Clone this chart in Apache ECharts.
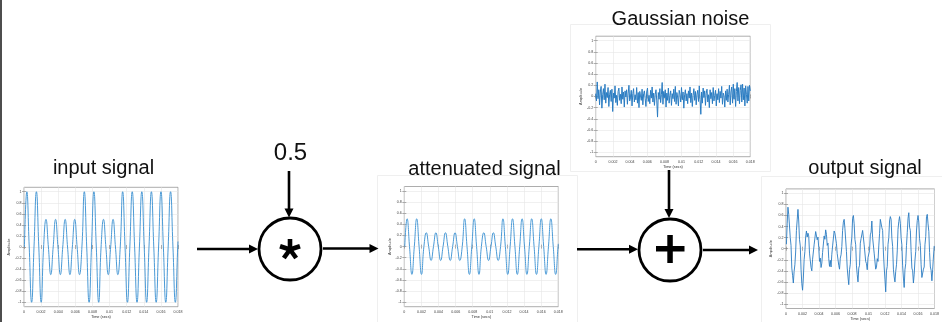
<!DOCTYPE html>
<html><head><meta charset="utf-8">
<script src="https://cdn.jsdelivr.net/npm/echarts@6/dist/echarts.min.js"></script>
<style>html,body{margin:0;padding:0;background:#fff}#c{width:942px;height:322px}</style>
</head><body><div id="c"></div>
<script>
// ---- tick labels ----
const yTickValues = [-1, -0.8, -0.6, -0.4, -0.2, 0, 0.2, 0.4, 0.6, 0.8, 1];
const timeMin = 0, timeMax = 0.018, timeInterval = 0.002;

// ---- input / attenuated signal (sample points read at quarter periods) ----
const signalTime = [0.00005, 0.00033, 0.00061, 0.00089, 0.00117, 0.00145, 0.00173, 0.00201, 0.00229, 0.00257,
  0.00285, 0.00313, 0.00341, 0.00369, 0.00397, 0.00425, 0.00453, 0.00481, 0.00509, 0.00537, 0.00565, 0.00593,
  0.00621, 0.00649, 0.00677, 0.00705, 0.00733, 0.00761, 0.00789, 0.00817, 0.00845, 0.00873, 0.00901, 0.00929,
  0.00957, 0.00985, 0.01013, 0.01041, 0.01069, 0.01097, 0.01125, 0.01153, 0.01181, 0.01209, 0.01237, 0.01265,
  0.01293, 0.01321, 0.01349, 0.01377, 0.01405, 0.01433, 0.01461, 0.01489, 0.01517, 0.01545, 0.01573, 0.01601,
  0.01629, 0.01657, 0.01685, 0.01713, 0.01741, 0.01769, 0.01797, 0.018];
const inputAmp = [0, 1, 0, -1, 0, 1, 0, -1,
  0, 0.5, 0, -0.5, 0, 0.5, 0, -0.5, 0, 0.5, 0, -0.5, 0, 0.5, 0, -0.5,
  0, 1, 0, -1, 0, 1, 0, -1,
  0, 0.5, 0, -0.5, 0, 0.5, 0, -0.5,
  0, 1, 0, -1, 0, 1, 0, -1, 0, 1, 0, -1, 0, 1, 0, -1, 0, 1, 0, -1, 0, 1, 0, -1,
  0, 0.1];
const attenuatedAmp = [0, 0.5, 0, -0.5, 0, 0.5, 0, -0.5,
  0, 0.25, 0, -0.25, 0, 0.25, 0, -0.25, 0, 0.25, 0, -0.25, 0, 0.25, 0, -0.25,
  0, 0.5, 0, -0.5, 0, 0.5, 0, -0.5,
  0, 0.25, 0, -0.25, 0, 0.25, 0, -0.25,
  0, 0.5, 0, -0.5, 0, 0.5, 0, -0.5, 0, 0.5, 0, -0.5, 0, 0.5, 0, -0.5, 0, 0.5, 0, -0.5, 0, 0.5, 0, -0.5,
  0, 0.05];

// ---- gaussian noise (sample period 0.00009 s) ----
const noiseStep = 0.00009;
const noiseAmp = [0.05, -0.08, 0.26, -0.04, 0.12, -0.15, 0.08, 0.18, -0.21, 0.03,
  0.14, -0.06, 0.22, -0.12, 0.07, -0.02, 0.16, -0.18, 0.04, 0.11,
  -0.09, 0.13, -0.27, 0.06, -0.03, 0.19, -0.11, 0.02, -0.16, 0.09,
  0.15, -0.07, 0.04, -0.13, 0.17, -0.05, 0.08, -0.19, 0.1, -0.01,
  0.12, -0.14, 0.06, 0.2, -0.08, -0.02, 0.11, -0.17, 0.05, 0.14,
  -0.1, 0.03, -0.06, 0.16, -0.12, 0.07, -0.2, 0.09, 0.01, -0.07,
  0.13, -0.15, 0.05, 0.1, -0.04, -0.18, 0.08, 0.15, -0.09, 0.02,
  -0.13, 0.11, -0.03, 0.17, -0.1, 0.06, -0.16, 0.04, 0.12, -0.08,
  -0.37, 0.07, -0.05, 0.14, -0.11, 0.03, 0.25, -0.14, 0.09, -0.02,
  0.12, -0.19, 0.06, -0.07, 0.15, -0.12, 0.02, 0.1, -0.16, 0.05,
  -0.04, 0.13, -0.09, 0.18, -0.14, 0.07, -0.01, -0.17, 0.11, 0.04,
  -0.1, 0.16, -0.06, 0.08, -0.21, 0.03, 0.12, -0.08, 0.05, -0.13,
  0.1, -0.03, 0.17, -0.11, 0.06, -0.18, 0.02, 0.14, -0.07, 0.09,
  -0.15, 0.04, 0.11, -0.09, 0.19, -0.05, -0.32, 0.08, -0.12, 0.15,
  -0.02, 0.1, -0.16, 0.06, 0.13, -0.1, 0.03, -0.2, 0.12, -0.04,
  0.07, -0.13, 0.16, -0.08, 0.02, 0.11, -0.17, 0.05, -0.06, 0.14,
  -0.11, 0.09, -0.03, 0.18, -0.14, 0.06, 0.01, -0.19, 0.1, -0.07,
  0.13, -0.1, 0.04, 0.2, -0.15, 0.08, 0.17, -0.12, 0.22, -0.05,
  0.14, -0.18, 0.09, 0.25, -0.08, 0.16, -0.13, 0.11, 0.21, -0.1,
  0.22, -0.06, 0.15, -0.17, 0.19, 0.04, -0.12, 0.18, -0.08, 0.2, 0.1];

// ---- output signal (12 samples per period, starting at 0.00005 s) ----
const outputStart = 0.00005, outputStep = 0.0000933;
const outputAmp = [
  0.08, 0.45, 0.75, 0.62, 0.61, 0.2, 0.06, -0.35, -0.48, -0.62, -0.41, -0.29,
  -0.06, 0.33, 0.52, 0.71, 0.5, 0.17, 0.05, -0.37, -0.63, -0.75, -0.53, -0.2,
  -0.05, 0.21, 0.32, 0.21, 0.28, 0.23, -0.08, -0.09, -0.34, -0.4, -0.19, -0.19,
  0.07, 0.1, 0.31, 0.3, 0.16, 0.21, 0.02, -0.23, -0.17, -0.34, -0.26, -0.07,
  -0.04, 0.23, 0.17, 0.34, 0.26, 0.06, 0.1, -0.18, -0.32, -0.21, -0.33, -0.1,
  0.05, 0.07, 0.32, 0.28, 0.3, 0.09, -0.09, -0.07, -0.3, -0.37, -0.17, -0.11,
  0.04, 0.33, 0.48, 0.53, 0.37, 0.35, -0.05, -0.35, -0.51, -0.65, -0.38, -0.28,
  0.06, 0.21, 0.55, 0.6, 0.45, 0.17, 0.07, -0.31, -0.47, -0.6, -0.35, -0.3,
  0.1, 0.18, 0.18, 0.33, 0.32, 0.07, 0.04, -0.23, -0.27, -0.38, -0.16, -0.15,
  -0.03, 0.25, 0.3, 0.5, 0.2, 0.19, -0.08, -0.11, -0.37, -0.33, -0.18, -0.23,
  0.05, 0.27, 0.53, 0.55, 0.38, 0.33, -0.06, -0.33, -0.55, -0.78, -0.4, -0.32,
  0.08, 0.2, 0.5, 0.58, 0.53, 0.19, 0.04, -0.37, -0.51, -0.6, -0.41, -0.29,
  -0.04, 0.35, 0.49, 0.58, 0.46, 0.2, 0.07, -0.31, -0.53, -0.7, -0.38, -0.27,
  0.06, 0.29, 0.55, 0.65, 0.39, 0.33, -0.05, -0.35, -0.4, -0.62, -0.46, -0.21,
  -0.05, 0.32, 0.51, 0.6, 0.48, 0.18, 0.06, -0.29, -0.52, -0.55, -0.37, -0.33,
  0.07, 0.22, 0.58, 0.62, 0.45, 0.31, -0.07, -0.33, -0.39, -0.58, -0.38, -0.15,
  0.05];

// ---- layout ----
const boxes = [
  {left: 24, top: 187.3, width: 154, height: 119.4},    // input
  {left: 404.3, top: 186.5, width: 154, height: 120.2}, // attenuated
  {left: 595.7, top: 36.2, width: 154.6, height: 120.5},// noise
  {left: 786, top: 188.9, width: 154.3, height: 119.6}  // output
];
const FONT = 'Liberation Sans';
const tickStyle = {color: '#7a7a7a', width: 0.6};

const grids = [], xAxes = [], yAxes = [];
boxes.forEach((b, i) => {
  grids.push(Object.assign({show: true, borderColor: '#8a8a8a', borderWidth: 0.7, backgroundColor: '#fff'}, b));
  xAxes.push({
    gridIndex: i, type: 'value', min: timeMin, max: timeMax, interval: timeInterval, position: 'bottom',
    axisLine: {show: false},
    axisTick: {show: true, inside: true, length: 2, lineStyle: tickStyle},
    axisLabel: {fontSize: 3.6, color: '#404040', margin: 3, fontFamily: FONT},
    splitLine: {show: true, lineStyle: {color: '#e6e6e6', width: 0.6}},
    name: 'Time (secs)', nameLocation: 'middle', nameGap: 8,
    nameTextStyle: {fontSize: 3.8, color: '#303030', fontFamily: FONT}
  });
  xAxes.push({
    gridIndex: i, type: 'value', min: timeMin, max: timeMax, interval: timeInterval, position: 'top',
    axisLine: {show: false},
    axisTick: {show: true, inside: true, length: 2, lineStyle: tickStyle},
    axisLabel: {show: false}, splitLine: {show: false}
  });
  yAxes.push({
    gridIndex: i, type: 'value', min: -1.08, max: 1.08, position: 'left',
    axisLine: {show: false},
    axisTick: {show: true, inside: true, length: 2, customValues: yTickValues, lineStyle: tickStyle},
    axisLabel: {customValues: yTickValues, fontSize: 3.6, color: '#404040', margin: 2.5, fontFamily: FONT},
    splitLine: {show: true, lineStyle: {color: '#e6e6e6', width: 0.6}},
    name: 'Amplitude', nameLocation: 'middle', nameGap: 9,
    nameTextStyle: {fontSize: 3.8, color: '#303030', fontFamily: FONT}
  });
  yAxes.push({
    gridIndex: i, type: 'value', min: -1.08, max: 1.08, position: 'right',
    axisLine: {show: false},
    axisTick: {show: true, inside: true, length: 2, customValues: yTickValues, lineStyle: tickStyle},
    axisLabel: {show: false}, splitLine: {show: false}
  });
});

function pairs(ts, vs) { return vs.map((v, i) => [ts[i], v]); }
function stepped(start, step, vs) { return vs.map((v, i) => [start + i * step, v]); }

const series = [
  {type: 'line', xAxisIndex: 0, yAxisIndex: 0, data: pairs(signalTime, inputAmp), smooth: 0.5,
   showSymbol: false, lineStyle: {color: '#4b9ad6', width: 1}},
  {type: 'line', xAxisIndex: 2, yAxisIndex: 2, data: pairs(signalTime, attenuatedAmp), smooth: 0.5,
   showSymbol: false, lineStyle: {color: '#4b9ad6', width: 1}},
  {type: 'line', xAxisIndex: 4, yAxisIndex: 4, data: stepped(0, noiseStep, noiseAmp),
   showSymbol: false, lineStyle: {color: '#2a7cc2', width: 1}},
  {type: 'line', xAxisIndex: 6, yAxisIndex: 6, data: stepped(outputStart, outputStep, outputAmp),
   showSymbol: false, lineStyle: {color: '#2a7cc2', width: 0.9}}
].map(s => Object.assign({silent: true, animation: false, clip: true}, s));

// ---- diagram graphics ----
const black = '#000';
function hArrow(x1, x2, y) {
  return [
    {type: 'line', shape: {x1: x1, y1: y, x2: x2 - 7, y2: y}, style: {stroke: black, lineWidth: 2.6}},
    {type: 'polygon', shape: {points: [[x2, y], [x2 - 9, y - 4.5], [x2 - 9, y + 4.5]]}, style: {fill: black}}
  ];
}
function vArrow(x, y1, y2) {
  return [
    {type: 'line', shape: {x1: x, y1: y1, x2: x, y2: y2 - 7}, style: {stroke: black, lineWidth: 2.6}},
    {type: 'polygon', shape: {points: [[x, y2], [x - 4.5, y2 - 9], [x + 4.5, y2 - 9]]}, style: {fill: black}}
  ];
}
function label(text, x, y, size) {
  return {type: 'text', x: x, y: y, style: {text: text, fill: '#111', font: size + 'px "' + FONT + '"',
    align: 'center', verticalAlign: 'middle', textAlign: 'center', textVerticalAlign: 'middle'}};
}
function frame(x, y, w, h) {
  return {type: 'rect', shape: {x: x, y: y, width: w, height: h}, style: {fill: 'none', stroke: '#efefef', lineWidth: 1}, z: -10};
}
// asterisk arms
const ast = {cx: 290, cy: 249.5, r: 10.5};
const asterisk = [90, 18, -54, -126, 162].map(a => {
  const rad = a * Math.PI / 180;
  return {type: 'line', shape: {x1: ast.cx, y1: ast.cy, x2: ast.cx + ast.r * Math.cos(rad), y2: ast.cy - ast.r * Math.sin(rad)},
    style: {stroke: black, lineWidth: 4.6, lineCap: 'butt'}};
});

const graphics = [
  {type: 'rect', shape: {x: 0, y: 0, width: 2, height: 322}, style: {fill: '#4d4d4d'}},
  frame(377.5, 175.5, 200, 160),
  frame(570.5, 24.5, 200, 147),
  frame(761.5, 176.5, 200, 160),
  label('input signal', 103.5, 168, 20),
  label('attenuated signal', 484.5, 169, 20),
  label('Gaussian noise', 680.5, 19, 20),
  label('output signal', 865, 168, 20),
  label('0.5', 290.5, 153.6, 24),
  ...hArrow(197, 258, 249),
  ...hArrow(323, 378.5, 248.5),
  ...vArrow(289, 171, 217.5),
  {type: 'circle', shape: {cx: 290, cy: 249, r: 31}, style: {fill: '#fff', stroke: black, lineWidth: 2.8}},
  ...asterisk,
  ...hArrow(577, 638, 249.3),
  ...vArrow(669, 170, 218),
  ...hArrow(703, 758, 250),
  {type: 'circle', shape: {cx: 670, cy: 250, r: 31}, style: {fill: '#fff', stroke: black, lineWidth: 2.8}},
  {type: 'rect', shape: {x: 656, y: 246, width: 28.5, height: 5.5}, style: {fill: black}},
  {type: 'rect', shape: {x: 667.3, y: 235, width: 5.5, height: 28}, style: {fill: black}}
];

const chart = echarts.init(document.getElementById('c'), null, {renderer: 'canvas'});
chart.setOption({
  animation: false,
  backgroundColor: '#fff',
  grid: grids, xAxis: xAxes, yAxis: yAxes, series: series,
  graphic: {elements: graphics}
});
</script></body></html>
